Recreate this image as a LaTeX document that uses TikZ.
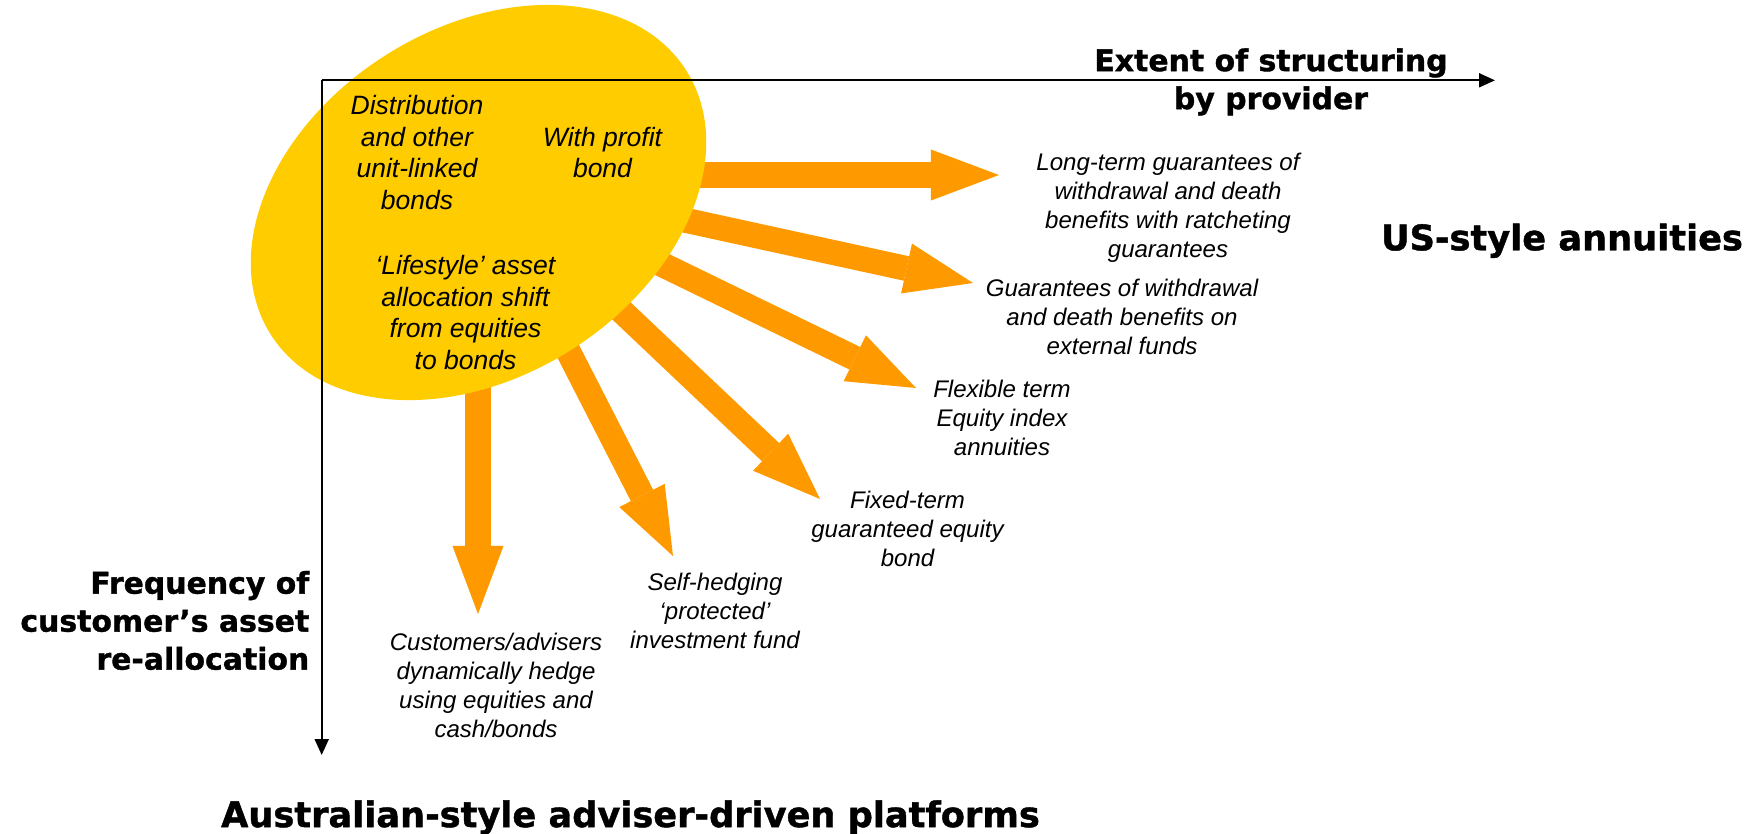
\documentclass[tikz,border=0pt]{standalone}
\usepackage{fontspec}
\setmainfont{Liberation Sans}
\newfontfamily\heavy{DejaVu Sans}[BoldFeatures={FakeBold=1.2}]
\usetikzlibrary{arrows.meta,shapes.geometric}
\definecolor{sunyellow}{HTML}{FFCC00}
\definecolor{rayorange}{HTML}{FF9900}

\begin{document}
\begin{tikzpicture}[x=0.01cm,y=-0.01cm,
  ray/.style={rayorange,line width=2.5mm,-{Triangle[length=6.8mm,width=5.1mm,line width=0pt]}},
  axisline/.style={line width=0.2mm,-{Triangle[length=1.6mm,width=1.4mm]}},
  pitem/.style={align=center,inner sep=0pt,font=\fontsize{7.54pt}{9pt}\selectfont\itshape},
  plabel/.style={align=center,inner sep=0pt,font=\fontsize{6.83pt}{8.25pt}\selectfont\itshape},
  axlabel/.style={inner sep=0pt,font=\heavy\bfseries\fontsize{8.5pt}{10.8pt}\selectfont},
  bigtitle/.style={inner sep=0pt,font=\heavy\bfseries\fontsize{10pt}{12pt}\selectfont}]
\useasboundingbox (0,0) rectangle (1760,833);

% rays out of the blob
\coordinate (hub) at (478,175);
\coordinate (t1) at (999,175);
\coordinate (t2) at (973,283);
\coordinate (t3) at (916,388);
\coordinate (t4) at (820,499);
\coordinate (t5) at (673,556);
\coordinate (t6) at (478,614);
\foreach \i in {1,...,6}
  \draw[ray] (hub) -- (t\i);

% the blob
\node[ellipse,fill=sunyellow,inner sep=0pt,minimum width=4.92cm,minimum height=3.48cm,rotate=32.5] (blob) at (478.5,202.5) {};

\node[pitem] (distrib) at (417,152.5) {Distribution\\and other\\unit-linked\\bonds};
\node[pitem] (withprofit) at (602.5,152.5) {With profit\\bond};
\node[pitem] (lifestyle) at (465.5,312.5) {‘Lifestyle’ asset\\allocation shift\\from equities\\to bonds};

% products
\node[plabel] (longterm) at (1168,207.6) {Long-term guarantees of\\withdrawal and death\\benefits with ratcheting\\guarantees};
\node[plabel] (external) at (1122,316.5) {Guarantees of withdrawal\\and death benefits on\\external funds};
\node[plabel] (flexible) at (1002,418) {Flexible term\\Equity index\\annuities};
\node[plabel] (fixedterm) at (907.5,529.3) {Fixed-term\\guaranteed equity\\bond};
\node[plabel] (selfhedge) at (715,610.7) {Self-hedging\\‘protected’\\investment fund};
\node[plabel] (customers) at (496,685.8) {Customers/advisers\\dynamically hedge\\using equities and\\cash/bonds};

% axes
\coordinate (origin) at (321.7,80.3);
\coordinate (xend) at (1495,80.3);
\coordinate (yend) at (321.7,755);
\draw[axisline] (origin) -- (xend);
\draw[axisline] (origin) -- (yend);
\node[axlabel,align=center] (extent) at (1271,82) {Extent of structuring\\by provider};
\node[axlabel,align=right,anchor=east] (frequency) at (310,620.5) {Frequency of\\customer’s asset\\re-allocation};

\node[bigtitle] (usstyle) at (1562,240.7) {US-style annuities};
\node[bigtitle] (australian) at (630.5,817.5) {Australian-style adviser-driven platforms};
\end{tikzpicture}
\end{document}
